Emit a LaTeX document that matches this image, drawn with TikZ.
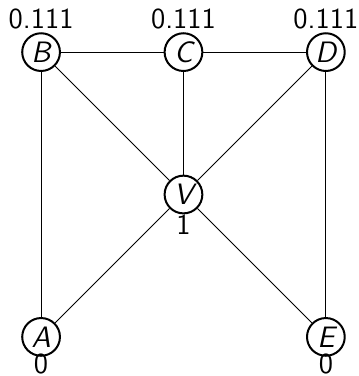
\documentclass[tikz,border=0pt]{standalone}
\begin{document}
\begin{tikzpicture}[
  vtx/.style={circle, draw=black, line width=0.8pt, minimum size=0.53cm, inner sep=0pt, font=\fontsize{11.8}{14}\selectfont\sffamily\itshape},
  edge/.style={draw=black, line width=0.4pt},
  val/.style={anchor=base, inner sep=0pt, font=\fontsize{11.6}{14}\selectfont\sffamily}
]
\useasboundingbox (-0.577,-0.549) rectangle (4.465,4.732);
\node[vtx] (B) at (0,4) {B};
\node[vtx] (C) at (2,4) {C};
\node[vtx] (D) at (4,4) {D};
\node[vtx] (V) at (2,2) {V};
\node[vtx] (A) at (0,0) {A};
\node[vtx] (E) at (4,0) {E};
\node[val] (lB) at (0,4.338) {0.111};
\node[val] (lC) at (2,4.338) {0.111};
\node[val] (lD) at (4,4.338) {0.111};
\node[val] (lV) at (2,1.437) {1};
\node[val] (lA) at (0,-0.52) {0};
\node[val] (lE) at (4,-0.52) {0};
\draw[edge] (B) -- (C);
\draw[edge] (C) -- (D);
\draw[edge] (B) -- (V);
\draw[edge] (C) -- (V);
\draw[edge] (D) -- (V);
\draw[edge] (B) -- (A);
\draw[edge] (A) -- (V);
\draw[edge] (V) -- (E);
\draw[edge] (D) -- (E);
\end{tikzpicture}
\end{document}
